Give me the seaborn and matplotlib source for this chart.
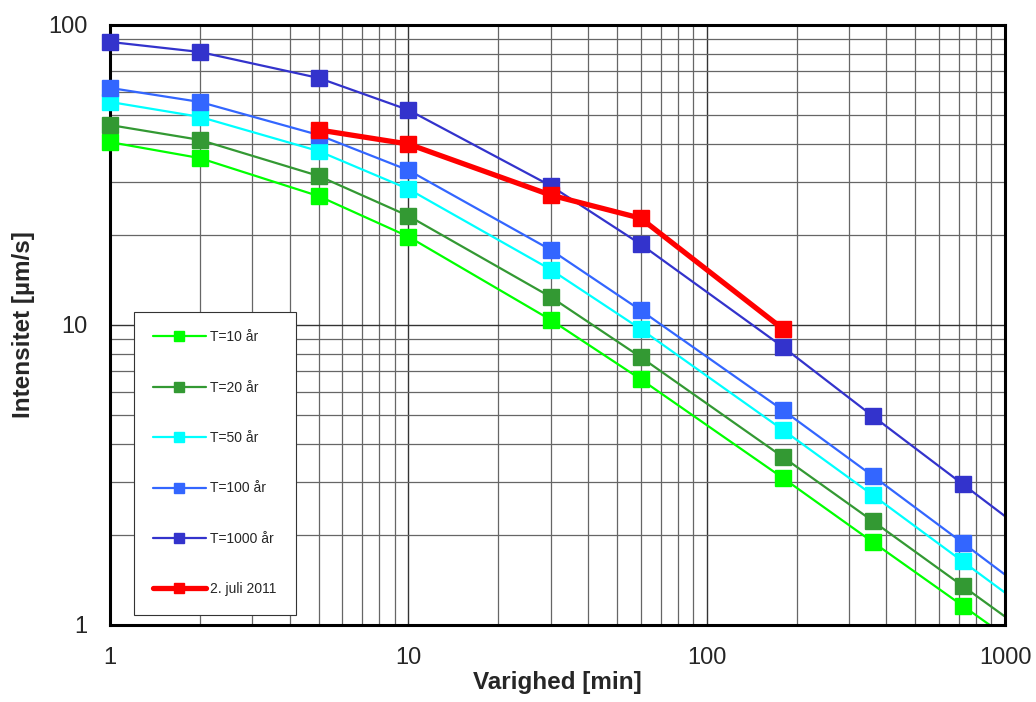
import numpy as np
import pandas as pd
import matplotlib
matplotlib.use('Agg')
import matplotlib.pyplot as plt
from matplotlib.lines import Line2D
from matplotlib.ticker import FuncFormatter, LogLocator, NullFormatter
import seaborn as sns

# duration in minutes (last point lies beyond the axis and is clipped)
durations = [1, 2, 5, 10, 30, 60, 180, 360, 720, 1440]

t10 = [40.7, 36.0, 26.9, 19.7, 10.4, 6.6, 3.09, 1.89, 1.16, 0.71]
t20 = [46.4, 41.4, 31.4, 23.1, 12.4, 7.82, 3.63, 2.22, 1.35, 0.82]
t50 = [55.4, 49.4, 38.0, 28.4, 15.3, 9.7, 4.47, 2.71, 1.63, 0.98]
t100 = [61.7, 55.4, 43.0, 32.8, 17.8, 11.2, 5.2, 3.14, 1.88, 1.12]
t1000 = [87.8, 81.3, 66.6, 52.1, 29.1, 18.6, 8.45, 4.97, 2.95, 1.75]

event_durations = [5, 10, 30, 60, 180]
event_values = [44.7, 40.1, 27.1, 22.7, 9.7]

labels = ['T=10 år', 'T=20 år', 'T=50 år', 'T=100 år', 'T=1000 år', '2. juli 2011']
colors = ['#00FF00', '#339933', '#00FFFF', '#3366FF', '#3333CC', '#FF0000']

sns.set_style('white')
plt.rcParams['font.family'] = ['Liberation Sans', 'DejaVu Sans']

frames = []
for lab, vals in zip(labels[:5], [t10, t20, t50, t100, t1000]):
    frames.append(pd.DataFrame({'Varighed': durations, 'Intensitet': vals, 'serie': lab}))
frames.append(pd.DataFrame({'Varighed': event_durations, 'Intensitet': event_values, 'serie': labels[5]}))
df = pd.concat(frames, ignore_index=True)

fig = plt.figure(figsize=(10.36, 7.02), dpi=100)
ax = fig.add_axes([0.1062, 0.1097, 0.8640, 0.8547])
ax.set_xscale('log')
ax.set_yscale('log')

for lab, col in zip(labels, colors):
    sub = df[df['serie'] == lab]
    lw = 3.8 if lab == labels[5] else 1.6
    sns.lineplot(data=sub, x='Varighed', y='Intensitet', color=col, linewidth=lw,
                 ax=ax, legend=False, zorder=3 if lab == labels[5] else 2)
    vis = sub[sub['Varighed'] <= 1000]
    ax.plot(vis['Varighed'], vis['Intensitet'], linestyle='none', marker='s',
            markersize=11, color=col, markeredgecolor=col, clip_on=False,
            zorder=4 if lab == labels[5] else 3)

ax.set_xlim(1, 1000)
ax.set_ylim(1, 100)

ax.xaxis.set_major_locator(LogLocator(base=10))
ax.yaxis.set_major_locator(LogLocator(base=10))
ax.xaxis.set_minor_locator(LogLocator(base=10, subs=np.arange(2, 10)))
ax.yaxis.set_minor_locator(LogLocator(base=10, subs=np.arange(2, 10)))
fmt = FuncFormatter(lambda v, p: f'{v:g}')
ax.xaxis.set_major_formatter(fmt)
ax.yaxis.set_major_formatter(fmt)
ax.xaxis.set_minor_formatter(NullFormatter())
ax.yaxis.set_minor_formatter(NullFormatter())

ax.grid(which='major', color='#333333', linewidth=1.0)
ax.grid(which='minor', color='#666666', linewidth=0.9)
ax.set_axisbelow(True)

ax.tick_params(which='both', direction='out', length=7, width=1, color='#555555',
               labelsize=17, pad=9)
ax.tick_params(axis='x', which='minor', length=0)
ax.tick_params(axis='y', which='minor', length=7)
for s in ax.spines.values():
    s.set_visible(True)
    s.set_color('black')
    s.set_linewidth(2.2)

ax.set_xlabel('Varighed [min]', fontsize=17.5, fontweight='bold', labelpad=1)
ax.set_ylabel('Intensitet [µm/s]', fontsize=17.5, fontweight='bold', labelpad=10)

handles = []
for lab, col in zip(labels, colors):
    lw = 3.8 if lab == labels[5] else 1.6
    handles.append(Line2D([0], [0], color=col, linewidth=lw, marker='s',
                          markersize=7.5, markeredgecolor=col))
leg = ax.legend(handles, labels, loc='lower left', bbox_to_anchor=(0.027, 0.0167),
                borderaxespad=0, fontsize=10, labelspacing=2.62, handlelength=3.8,
                handletextpad=0.34, borderpad=1.35, frameon=True, fancybox=False,
                framealpha=1, edgecolor='#333333')
leg.get_frame().set_linewidth(0.8)

fig.savefig('out.png', dpi=100)
